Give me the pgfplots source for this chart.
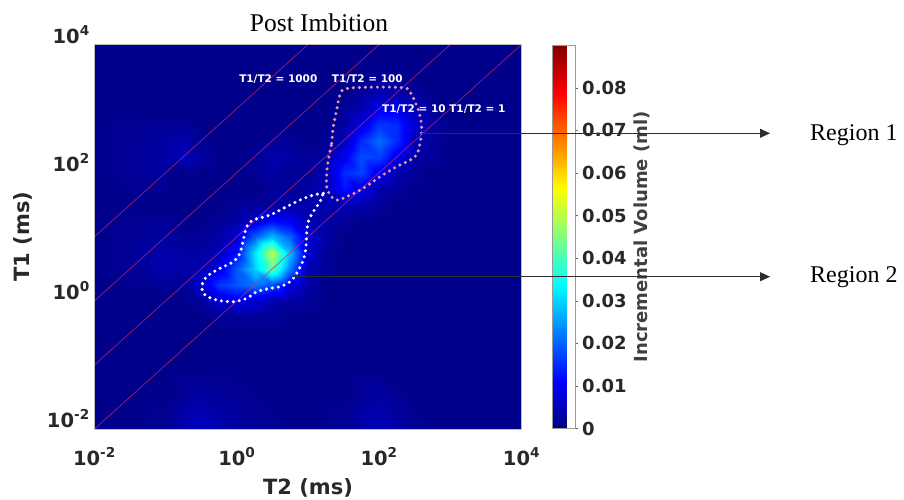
\documentclass[border=0pt]{standalone}
\usepackage{fontspec}
\setmainfont{Liberation Serif}
\newfontfamily\dejab{DejaVu Sans}
\usepackage{pgfplots}
\pgfplotsset{compat=1.18}
\usetikzlibrary{arrows.meta}
\definecolor{ratio}{RGB}{205,45,95}
\definecolor{pinkdot}{RGB}{235,150,165}
\definecolor{arrowgray}{RGB}{45,45,45}
\definecolor{ticktext}{RGB}{40,40,40}
\begin{document}
\begin{tikzpicture}
\useasboundingbox (-94.5pt,-70pt) rectangle (809.5pt,429pt);
\begin{axis}[
  at={(0pt,0pt)}, anchor=south west,
  scale only axis, width=427pt, height=384.5pt,
  xmode=log, ymode=log,
  xmin=1e-2, xmax=1e4, ymin=1e-2, ymax=1e4,
  xtick={1e-2,1,1e2,1e4}, ytick={1e-2,1,1e2,1e4},
  xticklabels={10\textsuperscript{-2},10\textsuperscript{0},10\textsuperscript{2},10\textsuperscript{4}},
  yticklabels={10\textsuperscript{-2},10\textsuperscript{0},10\textsuperscript{2},10\textsuperscript{4}},
  xminorticks=false, yminorticks=false,
  major tick length=0pt,
  axis on top,
  axis line style={draw=black!25},
  tick label style={font=\dejab\bfseries\fontsize{19.5}{22}\selectfont, text=ticktext, inner sep=0pt},
  xticklabel style={anchor=base, yshift=-36pt},
  yticklabel style={anchor=base east, xshift=-4.5pt, yshift=1.5pt},
  xlabel={T2 (ms)}, ylabel={T1 (ms)},
  label style={font=\dejab\bfseries\fontsize{21}{24}\selectfont, text=ticktext, inner sep=0pt},
  xlabel style={at={(axis description cs:0.5,-0.16905)}, anchor=base},
  ylabel style={at={(axis description cs:-0.15105,0.5)}, anchor=base},
  colormap/jet,
  point meta min=0, point meta max=0.09,
  colorbar,
  colorbar style={
    at={(parent axis.north east)}, anchor=north west, xshift=22.3pt, yshift=-0.7pt,
    scale only axis, width=22.7pt, height=383.3pt,
    ytick={0,0.01,0.02,0.03,0.04,0.05,0.06,0.07,0.08},
    scaled y ticks=false,
    ytick pos=right, tick align=outside, major tick length=3pt,
    tick style={draw=black!60},
    axis line style={draw=black!40},
    yticklabel style={font=\dejab\bfseries\fontsize{18}{21}\selectfont, text=ticktext, anchor=west, inner sep=0pt, xshift=4pt,
      /pgf/number format/fixed, /pgf/number format/precision=2, /pgf/number format/assume math mode=true},
    ylabel={Incremental Volume (ml)},
    ylabel style={font=\dejab\bfseries\fontsize{18}{21}\selectfont, text=black!75, at={(axis description cs:3.95,0.5)}, anchor=center, inner sep=0pt},
  },
]
% coarse grid over the whole map
\addplot[surf, shader=interp, mesh/cols=13, mesh/rows=13, point meta={\thisrow{v}/1000}]
 table[x expr={10^(\thisrow{lx})}, y expr={10^(\thisrow{ly})}, row sep=\\] {
lx ly v\\
-2 -2 1\\ -1.5 -2 1\\ -1 -2 2\\ -0.5 -2 6\\ 0 -2 3\\ 0.5 -2 2\\ 1 -2 1\\ 1.5 -2 2\\ 2 -2 5\\ 2.5 -2 2\\ 3 -2 1\\ 3.5 -2 1\\ 4 -2 1\\
-2 -1.5 1\\ -1.5 -1.5 1\\ -1 -1.5 1\\ -0.5 -1.5 3\\ 0 -1.5 2\\ 0.5 -1.5 1\\ 1 -1.5 1\\ 1.5 -1.5 1\\ 2 -1.5 3\\ 2.5 -1.5 1\\ 3 -1.5 1\\ 3.5 -1.5 1\\ 4 -1.5 1\\
-2 -1 1\\ -1.5 -1 1\\ -1 -1 1\\ -0.5 -1 1\\ 0 -1 1\\ 0.5 -1 1\\ 1 -1 1\\ 1.5 -1 1\\ 2 -1 1\\ 2.5 -1 1\\ 3 -1 1\\ 3.5 -1 1\\ 4 -1 1\\
-2 -0.5 1\\ -1.5 -0.5 1\\ -1 -0.5 1\\ -0.5 -0.5 1\\ 0 -0.5 1\\ 0.5 -0.5 1\\ 1 -0.5 1\\ 1.5 -0.5 1\\ 2 -0.5 1\\ 2.5 -0.5 1\\ 3 -0.5 1\\ 3.5 -0.5 1\\ 4 -0.5 1\\
-2 0 1\\ -1.5 0 1\\ -1 0 1\\ -0.5 0 1\\ 0 0 1\\ 0.5 0 1\\ 1 0 1\\ 1.5 0 1\\ 2 0 1\\ 2.5 0 1\\ 3 0 1\\ 3.5 0 1\\ 4 0 1\\
-2 0.5 1\\ -1.5 0.5 2\\ -1 0.5 4\\ -0.5 0.5 1\\ 0 0.5 1\\ 0.5 0.5 1\\ 1 0.5 1\\ 1.5 0.5 1\\ 2 0.5 1\\ 2.5 0.5 1\\ 3 0.5 1\\ 3.5 0.5 1\\ 4 0.5 1\\
-2 1 1\\ -1.5 1 2\\ -1 1 3\\ -0.5 1 1\\ 0 1 1\\ 0.5 1 1\\ 1 1 1\\ 1.5 1 1\\ 2 1 1\\ 2.5 1 1\\ 3 1 1\\ 3.5 1 1\\ 4 1 1\\
-2 1.5 1\\ -1.5 1.5 1\\ -1 1.5 1\\ -0.5 1.5 1\\ 0 1.5 1\\ 0.5 1.5 1\\ 1 1.5 1\\ 1.5 1.5 1\\ 2 1.5 1\\ 2.5 1.5 1\\ 3 1.5 1\\ 3.5 1.5 1\\ 4 1.5 1\\
-2 2 1\\ -1.5 2 2\\ -1 2 3\\ -0.5 2 1\\ 0 2 1\\ 0.5 2 1\\ 1 2 1\\ 1.5 2 1\\ 2 2 1\\ 2.5 2 1\\ 3 2 1\\ 3.5 2 1\\ 4 2 1\\
-2 2.5 1\\ -1.5 2.5 2\\ -1 2.5 3\\ -0.5 2.5 1\\ 0 2.5 1\\ 0.5 2.5 1\\ 1 2.5 1\\ 1.5 2.5 1\\ 2 2.5 1\\ 2.5 2.5 1\\ 3 2.5 1\\ 3.5 2.5 1\\ 4 2.5 1\\
-2 3 1\\ -1.5 3 1\\ -1 3 1\\ -0.5 3 1\\ 0 3 1\\ 0.5 3 1\\ 1 3 1\\ 1.5 3 1\\ 2 3 1\\ 2.5 3 1\\ 3 3 1\\ 3.5 3 1\\ 4 3 1\\
-2 3.5 1\\ -1.5 3.5 1\\ -1 3.5 1\\ -0.5 3.5 1\\ 0 3.5 1\\ 0.5 3.5 1\\ 1 3.5 1\\ 1.5 3.5 1\\ 2 3.5 1\\ 2.5 3.5 1\\ 3 3.5 1\\ 3.5 3.5 1\\ 4 3.5 1\\
-2 4 1\\ -1.5 4 1\\ -1 4 1\\ -0.5 4 1\\ 0 4 1\\ 0.5 4 1\\ 1 4 1\\ 1.5 4 1\\ 2 4 1\\ 2.5 4 1\\ 3 4 1\\ 3.5 4 1\\ 4 4 1\\
};
% fine grid over the two regions
\addplot[surf, shader=interp, mesh/cols=17, mesh/rows=18, point meta={\thisrow{v}/1000}]
 table[x expr={10^(\thisrow{lx})}, y expr={10^(\thisrow{ly})}, row sep=\\] {
lx ly v\\
-1 -0.5 1\\ -0.75 -0.5 1\\ -0.5 -0.5 1\\ -0.25 -0.5 1\\ 0 -0.5 1\\ 0.25 -0.5 1\\ 0.5 -0.5 1\\ 0.75 -0.5 1\\ 1 -0.5 1\\ 1.25 -0.5 1\\ 1.5 -0.5 1\\ 1.75 -0.5 1\\ 2 -0.5 1\\ 2.25 -0.5 1\\ 2.5 -0.5 1\\ 2.75 -0.5 1\\ 3 -0.5 1\\
-1 -0.25 1\\ -0.75 -0.25 1\\ -0.5 -0.25 1\\ -0.25 -0.25 2\\ 0 -0.25 2\\ 0.25 -0.25 2\\ 0.5 -0.25 2\\ 0.75 -0.25 1\\ 1 -0.25 1\\ 1.25 -0.25 1\\ 1.5 -0.25 1\\ 1.75 -0.25 1\\ 2 -0.25 1\\ 2.25 -0.25 1\\ 2.5 -0.25 1\\ 2.75 -0.25 1\\ 3 -0.25 1\\
-1 0 1\\ -0.75 0 1\\ -0.5 0 3\\ -0.25 0 7\\ 0 0 9\\ 0.25 0 7\\ 0.5 0 4\\ 0.75 0 3\\ 1 0 2\\ 1.25 0 1\\ 1.5 0 1\\ 1.75 0 1\\ 2 0 1\\ 2.25 0 1\\ 2.5 0 1\\ 2.75 0 1\\ 3 0 1\\
-1 0.25 2\\ -0.75 0.25 2\\ -0.5 0.25 7\\ -0.25 0.25 16\\ 0 0.25 19\\ 0.25 0.25 22\\ 0.5 0.25 18\\ 0.75 0.25 8\\ 1 0.25 3\\ 1.25 0.25 1\\ 1.5 0.25 1\\ 1.75 0.25 1\\ 2 0.25 1\\ 2.25 0.25 1\\ 2.5 0.25 1\\ 2.75 0.25 1\\ 3 0.25 1\\
-1 0.5 4\\ -0.75 0.5 3\\ -0.5 0.5 4\\ -0.25 0.5 9\\ 0 0.5 19\\ 0.25 0.5 30\\ 0.5 0.5 42\\ 0.75 0.5 22\\ 1 0.5 4\\ 1.25 0.5 2\\ 1.5 0.5 1\\ 1.75 0.5 1\\ 2 0.5 1\\ 2.25 0.5 1\\ 2.5 0.5 1\\ 2.75 0.5 1\\ 3 0.5 1\\
-1 0.75 4\\ -0.75 0.75 3\\ -0.5 0.75 3\\ -0.25 0.75 5\\ 0 0.75 12\\ 0.25 0.75 32\\ 0.5 0.75 50\\ 0.75 0.75 28\\ 1 0.75 7\\ 1.25 0.75 2\\ 1.5 0.75 1\\ 1.75 0.75 1\\ 2 0.75 1\\ 2.25 0.75 1\\ 2.5 0.75 1\\ 2.75 0.75 1\\ 3 0.75 1\\
-1 1 3\\ -0.75 1 2\\ -0.5 1 2\\ -0.25 1 3\\ 0 1 7\\ 0.25 1 20\\ 0.5 1 28\\ 0.75 1 20\\ 1 1 8\\ 1.25 1 3\\ 1.5 1 1\\ 1.75 1 1\\ 2 1 1\\ 2.25 1 1\\ 2.5 1 1\\ 2.75 1 1\\ 3 1 1\\
-1 1.25 2\\ -0.75 1.25 1\\ -0.5 1.25 1\\ -0.25 1.25 2\\ 0 1.25 3\\ 0.25 1.25 7\\ 0.5 1.25 12\\ 0.75 1.25 10\\ 1 1.25 5\\ 1.25 1.25 3\\ 1.5 1.25 2\\ 1.75 1.25 1\\ 2 1.25 1\\ 2.25 1.25 1\\ 2.5 1.25 1\\ 2.75 1.25 1\\ 3 1.25 1\\
-1 1.5 1\\ -0.75 1.5 1\\ -0.5 1.5 1\\ -0.25 1.5 1\\ 0 1.5 2\\ 0.25 1.5 2\\ 0.5 1.5 3\\ 0.75 1.5 4\\ 1 1.5 4\\ 1.25 1.5 4\\ 1.5 1.5 5\\ 1.75 1.5 4\\ 2 1.5 2\\ 2.25 1.5 1\\ 2.5 1.5 1\\ 2.75 1.5 1\\ 3 1.5 1\\
-1 1.75 1\\ -0.75 1.75 1\\ -0.5 1.75 1\\ -0.25 1.75 1\\ 0 1.75 1\\ 0.25 1.75 1\\ 0.5 1.75 2\\ 0.75 1.75 2\\ 1 1.75 3\\ 1.25 1.75 5\\ 1.5 1.75 13\\ 1.75 1.75 9\\ 2 1.75 4\\ 2.25 1.75 2\\ 2.5 1.75 1\\ 2.75 1.75 1\\ 3 1.75 1\\
-1 2 1\\ -0.75 2 1\\ -0.5 2 1\\ -0.25 2 1\\ 0 2 1\\ 0.25 2 2\\ 0.5 2 3\\ 0.75 2 2\\ 1 2 2\\ 1.25 2 4\\ 1.5 2 15\\ 1.75 2 17\\ 2 2 9\\ 2.25 2 4\\ 2.5 2 2\\ 2.75 2 1\\ 3 2 1\\
-1 2.25 4\\ -0.75 2.25 5\\ -0.5 2.25 3\\ -0.25 2.25 1\\ 0 2.25 1\\ 0.25 2.25 2\\ 0.5 2.25 4\\ 0.75 2.25 3\\ 1 2.25 2\\ 1.25 2.25 3\\ 1.5 2.25 10\\ 1.75 2.25 18\\ 2 2.25 17\\ 2.25 2.25 9\\ 2.5 2.25 3\\ 2.75 2.25 2\\ 3 2.25 1\\
-1 2.5 3\\ -0.75 2.5 4\\ -0.5 2.5 2\\ -0.25 2.5 1\\ 0 2.5 1\\ 0.25 2.5 1\\ 0.5 2.5 2\\ 0.75 2.5 2\\ 1 2.5 1\\ 1.25 2.5 2\\ 1.5 2.5 5\\ 1.75 2.5 15\\ 2 2.5 21\\ 2.25 2.5 15\\ 2.5 2.5 5\\ 2.75 2.5 2\\ 3 2.5 1\\
-1 2.75 2\\ -0.75 2.75 2\\ -0.5 2.75 1\\ -0.25 2.75 1\\ 0 2.75 1\\ 0.25 2.75 1\\ 0.5 2.75 1\\ 0.75 2.75 1\\ 1 2.75 1\\ 1.25 2.75 1\\ 1.5 2.75 3\\ 1.75 2.75 8\\ 2 2.75 16\\ 2.25 2.75 15\\ 2.5 2.75 7\\ 2.75 2.75 3\\ 3 2.75 1\\
-1 3 1\\ -0.75 3 1\\ -0.5 3 1\\ -0.25 3 1\\ 0 3 1\\ 0.25 3 1\\ 0.5 3 1\\ 0.75 3 1\\ 1 3 1\\ 1.25 3 1\\ 1.5 3 2\\ 1.75 3 4\\ 2 3 10\\ 2.25 3 10\\ 2.5 3 5\\ 2.75 3 2\\ 3 3 1\\
-1 3.25 1\\ -0.75 3.25 1\\ -0.5 3.25 1\\ -0.25 3.25 1\\ 0 3.25 1\\ 0.25 3.25 1\\ 0.5 3.25 1\\ 0.75 3.25 1\\ 1 3.25 1\\ 1.25 3.25 1\\ 1.5 3.25 1\\ 1.75 3.25 2\\ 2 3.25 4\\ 2.25 3.25 4\\ 2.5 3.25 3\\ 2.75 3.25 1\\ 3 3.25 1\\
-1 3.5 1\\ -0.75 3.5 1\\ -0.5 3.5 1\\ -0.25 3.5 1\\ 0 3.5 1\\ 0.25 3.5 1\\ 0.5 3.5 1\\ 0.75 3.5 1\\ 1 3.5 1\\ 1.25 3.5 1\\ 1.5 3.5 1\\ 1.75 3.5 1\\ 2 3.5 2\\ 2.25 3.5 2\\ 2.5 3.5 1\\ 2.75 3.5 1\\ 3 3.5 1\\
-1 3.75 1\\ -0.75 3.75 1\\ -0.5 3.75 1\\ -0.25 3.75 1\\ 0 3.75 1\\ 0.25 3.75 1\\ 0.5 3.75 1\\ 0.75 3.75 1\\ 1 3.75 1\\ 1.25 3.75 1\\ 1.5 3.75 1\\ 1.75 3.75 1\\ 2 3.75 1\\ 2.25 3.75 1\\ 2.5 3.75 1\\ 2.75 3.75 1\\ 3 3.75 1\\
};
% T1/T2 ratio lines
\addplot[ratio, line width=0.7pt, opacity=0.75] coordinates {(1e-2,1e-2) (1e4,1e4)};
\addplot[ratio, line width=0.7pt, opacity=0.75] coordinates {(1e-2,1e-1) (1e3,1e4)};
\addplot[ratio, line width=0.7pt, opacity=0.75] coordinates {(1e-2,1) (1e2,1e4)};
\addplot[ratio, line width=0.7pt, opacity=0.75] coordinates {(1e-2,1e1) (1e1,1e4)};
% Region 1 outline
\addplot[pinkdot, line width=3.4pt, line cap=round, dash pattern=on 0pt off 6pt, smooth, tension=0.55]
 table[x expr={10^(\thisrow{lx})}, y expr={10^(\thisrow{ly})}, row sep=\\] {
lx ly\\
1.333 2.458\\ 1.355 2.717\\ 1.403 2.978\\ 1.445 3.200\\ 1.530 3.310\\ 1.95 3.335\\ 2.34 3.325\\ 2.433 3.263\\ 2.550 2.978\\ 2.597 2.717\\ 2.574 2.458\\ 2.503 2.249\\ 2.246 2.093\\ 2.011 1.937\\ 1.777 1.756\\ 1.544 1.625\\ 1.403 1.573\\ 1.309 1.651\\ 1.263 1.781\\ 1.263 1.990\\ 1.285 2.198\\ 1.333 2.458\\
};
% Region 2 outline
\addplot[white, line width=3.4pt, line cap=round, dash pattern=on 0pt off 6pt, smooth, tension=0.55]
 table[x expr={10^(\thisrow{lx})}, y expr={10^(\thisrow{ly})}, row sep=\\] {
lx ly\\
1.215 1.678\\ 1.074 1.651\\ 0.887 1.573\\ 0.700 1.469\\ 0.466 1.339\\ 0.231 1.261\\ 0.139 1.157\\ 0.091 0.949\\ 0.044 0.742\\ -0.050 0.610\\ -0.237 0.507\\ -0.424 0.377\\ -0.494 0.220\\ -0.447 0.091\\ -0.283 0.013\\ -0.050 -0.014\\ 0.139 0.039\\ 0.279 0.142\\ 0.466 0.195\\ 0.606 0.220\\ 0.747 0.298\\ 0.841 0.429\\ 0.934 0.637\\ 0.972 0.845\\ 0.981 1.054\\ 1.004 1.235\\ 1.074 1.391\\ 1.168 1.547\\ 1.215 1.678\\
};
\end{axis}
% title and annotations
\node[anchor=base, font=\fontsize{25.5}{30}\selectfont, inner sep=0pt] at (224.5pt,397pt) {Post Imbition};
\node[text=white, font=\dejab\bfseries\fontsize{10.5}{12}\selectfont, inner sep=0pt] at (183.8pt,349.7pt) {T1/T2 = 1000};
\node[text=white, font=\dejab\bfseries\fontsize{10.5}{12}\selectfont, inner sep=0pt] at (272.8pt,349.7pt) {T1/T2 = 100};
\node[text=white, font=\dejab\bfseries\fontsize{10.5}{12}\selectfont, inner sep=0pt] at (349.3pt,319.7pt) {T1/T2 = 10 T1/T2 = 1};
\draw[arrowgray, line width=1pt, -{Triangle[length=10pt,width=9pt]}] (326.5pt,295.7pt) -- (675.5pt,295.7pt);
\draw[arrowgray, line width=1pt, -{Triangle[length=10pt,width=9pt]}] (198.5pt,152.3pt) -- (675.5pt,152.3pt);
\node[anchor=west, font=\fontsize{24}{28}\selectfont, inner sep=0pt] at (715.5pt,294pt) {Region 1};
\node[anchor=west, font=\fontsize{24}{28}\selectfont, inner sep=0pt] at (715.5pt,152.3pt) {Region 2};
\end{tikzpicture}
\end{document}
